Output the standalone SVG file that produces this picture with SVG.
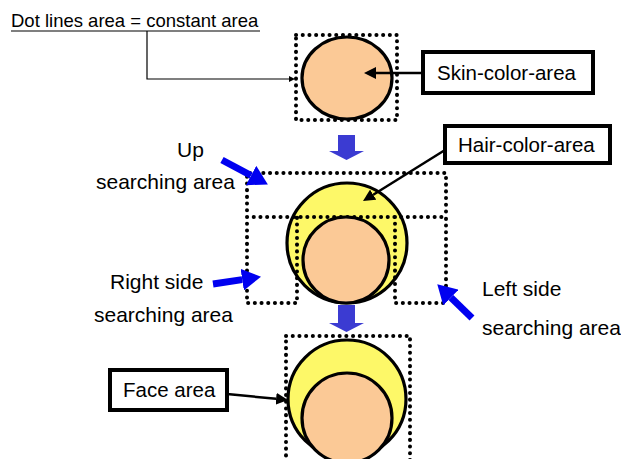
<svg xmlns="http://www.w3.org/2000/svg" width="621" height="459" viewBox="0 0 621 459">
  <style>
    .txt { font-family: "Liberation Sans", Arial, sans-serif; fill: #000; }
    .lbl { font-size: 21px; }
    .box { fill: #fff; stroke: #000; stroke-width: 4; }
    .dots { fill: none; stroke: #000; stroke-width: 4; stroke-linecap: round; stroke-dasharray: 0.1 6.6; }
    .skin { fill: #fbc996; stroke: #000; stroke-width: 3.2; }
    .hair { fill: #fdf868; stroke: #000; stroke-width: 3.2; }
    .blue { stroke: #0000f0; stroke-width: 7; fill: none; }
    .blk { stroke: #000; stroke-width: 2.5; fill: none; }
    .step { fill: #3b3bd2; }
  </style>
  <defs>
    <marker id="blueHead" markerUnits="userSpaceOnUse" markerWidth="20" markerHeight="22" refX="0" refY="11" orient="auto">
      <path d="M0,0 L19,11 L0,22 Z" fill="#0000f0"/>
    </marker>
    <marker id="blkHead" markerUnits="userSpaceOnUse" markerWidth="13" markerHeight="12" refX="0" refY="6" orient="auto">
      <path d="M0,0 L12,6 L0,12 Z" fill="#000"/>
    </marker>
    <marker id="thinHead" markerUnits="userSpaceOnUse" markerWidth="7" markerHeight="6" refX="0" refY="3" orient="auto">
      <path d="M0,0 L6,3 L0,6 Z" fill="#000"/>
    </marker>
  </defs>

  <!-- caption -->
  <g id="caption">
    <text class="txt" x="11" y="27" font-size="18.5">Dot lines area = constant area</text>
    <line x1="11" y1="31" x2="260" y2="31" stroke="#000" stroke-width="1.2"/>
  </g>

  <!-- stage 1: skin-colour region -->
  <g id="stage1">
    <rect class="dots" x="296" y="35" width="101" height="85"/>
    <ellipse class="skin" cx="347" cy="78" rx="45" ry="41"/>
  </g>

  <!-- stage 2: hair search -->
  <g id="stage2">
    <circle class="hair" cx="347" cy="243" r="60"/>
    <path class="dots" d="M247,217 V173 H446 V217 M247,217 H446 M247,217 V303 H297 V217 M395,217 V303 H446 V217"/>
    <circle class="skin" cx="346" cy="260" r="43"/>
  </g>

  <!-- stage 3: face -->
  <g id="stage3">
    <rect class="dots" x="286" y="336" width="124" height="130"/>
    <circle class="hair" cx="347" cy="399" r="59"/>
    <circle class="skin" cx="347" cy="418" r="45"/>
  </g>

  <!-- labelled boxes -->
  <g id="skin-label">
    <rect class="box" x="423" y="52" width="170" height="41"/>
    <text class="txt" x="437" y="80" font-size="20.5">Skin-color-area</text>
  </g>
  <g id="hair-label">
    <rect class="box" x="445" y="126" width="165" height="37"/>
    <text class="txt" x="458" y="152" font-size="20.5">Hair-color-area</text>
  </g>
  <g id="face-label">
    <rect class="box" x="110" y="370" width="117" height="40"/>
    <text class="txt" x="123" y="397" font-size="20.5">Face area</text>
  </g>

  <!-- search area labels -->
  <g id="up-label">
    <text class="txt lbl" x="177" y="157">Up</text>
    <text class="txt lbl" x="96" y="189">searching area</text>
  </g>
  <g id="right-label">
    <text class="txt lbl" x="110" y="289">Right side</text>
    <text class="txt lbl" x="94" y="322">searching area</text>
  </g>
  <g id="left-label">
    <text class="txt lbl" x="482" y="296">Left side</text>
    <text class="txt lbl" x="482" y="335">searching area</text>
  </g>

  <!-- connectors -->
  <g id="connectors">
    <polyline points="147,31 147,79 289,79" fill="none" stroke="#000" stroke-width="1.2" marker-end="url(#thinHead)"/>
    <line class="blk" x1="423" y1="73" x2="376" y2="73" marker-end="url(#blkHead)"/>
    <line class="blk" x1="445" y1="150" x2="373.2" y2="194.7" marker-end="url(#blkHead)"/>
    <line class="blk" x1="227" y1="394" x2="276.1" y2="398.8" marker-end="url(#blkHead)"/>
    <line class="blue" x1="222" y1="160" x2="251.1" y2="175.5" marker-end="url(#blueHead)"/>
    <line class="blue" x1="213" y1="284" x2="242.2" y2="279.6" marker-end="url(#blueHead)"/>
    <line class="blue" x1="472" y1="318" x2="450.9" y2="297.5" marker-end="url(#blueHead)"/>
    <path class="step" d="M338,135 H355 V151 H364 L346.5,160 L329,151 H338 Z"/>
    <path class="step" d="M338,305 H355 V323 H364 L346.5,332 L329,323 H338 Z"/>
  </g>
</svg>
